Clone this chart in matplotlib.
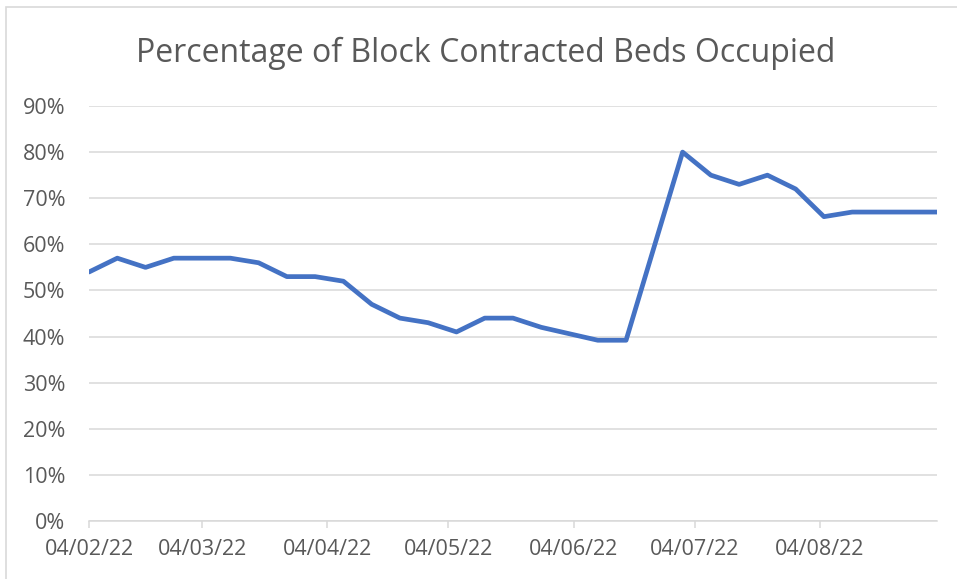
import datetime as dt

import numpy as np
import matplotlib
matplotlib.use('Agg')
import matplotlib.pyplot as plt
import matplotlib.dates as mdates
from matplotlib.ticker import FuncFormatter

# weekly readings, starting 4 Feb 2022
start = dt.date(2022, 2, 4)
n_weeks = 31
dates = [start + dt.timedelta(days=7 * i) for i in range(n_weeks)]

occupied = [54, 57, 55, 57, 57, 57, 56, 53, 53, 52,
            47, 44, 43, 41, 44, 44, 42, 40.6, 39.2, 39.2,
            59.6, 80, 75, 73, 75, 72, 66, 67, 67, 67, 67]

tick_dates = [dt.date(2022, m, 4) for m in range(2, 9)]
title = 'Percentage of Block Contracted Beds Occupied'

grey = '#595959'
plt.rcParams['font.family'] = ['Open Sans', 'DejaVu Sans']

fig = plt.figure(figsize=(9.57, 5.79), dpi=100)
ax = fig.add_axes([89 / 957, 1 - 521 / 579, (937 - 89) / 957, (521 - 106) / 579])

ax.plot(dates, occupied, color='#4472C4', lw=3.4, solid_capstyle='round',
        solid_joinstyle='round', zorder=3)

ax.set_ylim(0, 90)
ax.set_yticks(np.arange(0, 91, 10))
ax.yaxis.set_major_formatter(FuncFormatter(lambda v, p: '%d%%' % v))
ax.set_xlim(dates[0], dates[-1])
ax.set_xticks(tick_dates)
ax.xaxis.set_major_formatter(mdates.DateFormatter('%d/%m/%y'))

ax.grid(axis='y', color='#D9D9D9', lw=1.1)
ax.set_axisbelow(True)
for s in ['top', 'right', 'left']:
    ax.spines[s].set_visible(False)
ax.spines['bottom'].set_color('#D9D9D9')
ax.spines['bottom'].set_linewidth(1.1)
ax.tick_params(axis='y', length=0, pad=17, labelsize=15.5, labelcolor=grey)
ax.tick_params(axis='x', length=5, width=1.1, color='#D9D9D9', pad=8,
               labelsize=15.5, labelcolor=grey)

fig.text(486 / 957, 1 - 53 / 579, title, ha='center', va='center',
         fontsize=23, color=grey)

# chart border
fig.patches.append(plt.Rectangle((6 / 957, -0.1), 1.2, 1.1 - 7 / 579,
                                 transform=fig.transFigure, fill=False,
                                 ec='#D9D9D9', lw=1.2))

fig.savefig('out.png', dpi=100)
